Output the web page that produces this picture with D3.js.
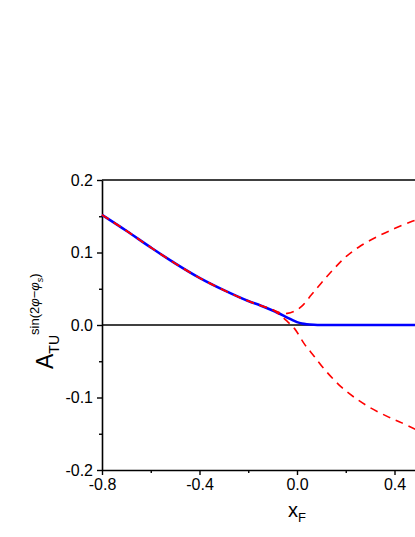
<!DOCTYPE html>
<html>
<head>
<meta charset="utf-8">
<script src="https://cdn.jsdelivr.net/npm/d3@7"></script>
<style>
  body { margin: 0; background: #fff; }
  svg { display: block; font-family: "Liberation Sans", Arial, sans-serif; }
</style>
</head>
<body>
<svg id="chart"></svg>
<script>
// data
let xTicks = [-0.8, -0.4, 0.0, 0.4];
let xMinor = [-0.6, -0.2, 0.2];
let yTicks = [-0.2, -0.1, 0.0, 0.1, 0.2];
let yMinor = [-0.15, -0.05, 0.05, 0.15];

// blue solid curve
let blueX = [-0.8, -0.7, -0.6, -0.5, -0.4, -0.3, -0.2, -0.15, -0.1, -0.05, -0.02, 0.0, 0.02, 0.04, 0.07, 0.1, 0.2, 0.8];
let blueY = [0.152, 0.130, 0.107, 0.085, 0.065, 0.048, 0.033, 0.027, 0.020, 0.012, 0.007, 0.004, 0.002, 0.001, 0.0003, 0.0, 0.0, 0.0];

// red dashed, upper branch
let redUpX = [-0.8, -0.7, -0.6, -0.5, -0.4, -0.3, -0.2, -0.15, -0.1, -0.07, -0.04, -0.01, 0.02, 0.06, 0.1, 0.15, 0.2, 0.26, 0.33, 0.4, 0.465, 0.5];
let redUpY = [0.152, 0.130, 0.107, 0.085, 0.065, 0.048, 0.033, 0.027, 0.021, 0.017, 0.016, 0.019, 0.026, 0.042, 0.058, 0.077, 0.094, 0.109, 0.122, 0.133, 0.142, 0.146];

// red dashed, lower branch
let redLoX = [-0.8, -0.7, -0.6, -0.5, -0.4, -0.3, -0.2, -0.15, -0.1, -0.07, -0.04, -0.01, 0.03, 0.07, 0.12, 0.18, 0.24, 0.3, 0.37, 0.43, 0.5];
let redLoY = [0.152, 0.130, 0.107, 0.085, 0.065, 0.048, 0.033, 0.027, 0.021, 0.014, 0.005, -0.005, -0.026, -0.043, -0.064, -0.085, -0.101, -0.114, -0.126, -0.135, -0.146];

let width = 415;
let height = 537;
let margin = { top: 180, left: 102, bottom: 67 };
let plotRight = 492; // the frame continues past the window edge

let svg = d3.select('#chart')
  .attr('width', width)
  .attr('height', height);

let x = d3.scaleLinear()
  .domain([-0.8, 0.8])
  .range([margin.left, plotRight]);

let y = d3.scaleLinear()
  .domain([-0.2, 0.2])
  .range([height - margin.bottom, margin.top]);

let fmt = d => d.toFixed(1);

function zip(xs, ys) {
  return xs.map((v, i) => ({ x: v, y: ys[i] }));
}

// top frame line
svg.append("line")
  .attr("x1", x(-0.8)).attr("x2", x(0.8))
  .attr("y1", y(0.2)).attr("y2", y(0.2))
  .attr("stroke", "#000").attr("stroke-width", 1.6);

// zero line
svg.append("line")
  .attr("x1", x(-0.8)).attr("x2", x(0.8))
  .attr("y1", y(0)).attr("y2", y(0))
  .attr("stroke", "#000").attr("stroke-width", 1.6);

// x axis
let gx = svg.append("g")
  .attr("transform", `translate(0,${y(-0.2)})`)
  .call(d3.axisBottom(x).tickValues(xTicks).tickFormat(fmt).tickSize(5).tickSizeOuter(0));
svg.append("g")
  .attr("transform", `translate(0,${y(-0.2)})`)
  .call(d3.axisBottom(x).tickValues(xMinor).tickFormat("").tickSize(3).tickSizeOuter(0))
  .call(g => g.select(".domain").remove());

// y axis
let gy = svg.append("g")
  .attr("transform", `translate(${x(-0.8)},0)`)
  .call(d3.axisLeft(y).tickValues(yTicks).tickFormat(fmt).tickSize(5).tickSizeOuter(0));
svg.append("g")
  .attr("transform", `translate(${x(-0.8)},0)`)
  .call(d3.axisLeft(y).tickValues(yMinor).tickFormat("").tickSize(3).tickSizeOuter(0))
  .call(g => g.select(".domain").remove());

svg.selectAll(".domain").attr("stroke-width", 1.6);
svg.selectAll(".tick line").attr("stroke-width", 1.4);
svg.selectAll(".tick text")
  .attr("font-family", "Liberation Sans, Arial, sans-serif")
  .attr("font-size", 16)
  .attr("fill", "#000");
gx.selectAll(".tick text").attr("dy", "0.78em").attr("y", 8);
gy.selectAll(".tick text").attr("x", -9);

let line = d3.line()
  .x(d => x(d.x))
  .y(d => y(d.y))
  .curve(d3.curveCatmullRom);

svg.append("path")
  .datum(zip(blueX, blueY))
  .attr("fill", "none")
  .attr("stroke", "#0000ff")
  .attr("stroke-width", 2.6)
  .attr("d", line);

for (let [xs, ys] of [[redUpX, redUpY], [redLoX, redLoY]]) {
  svg.append("path")
    .datum(zip(xs, ys))
    .attr("fill", "none")
    .attr("stroke", "#ff0000")
    .attr("stroke-width", 1.6)
    .attr("stroke-dasharray", "8,6")
    .attr("d", line);
}

// x axis title
let xt = svg.append("text")
  .attr("x", x(0))
  .attr("y", 517)
  .attr("text-anchor", "middle")
  .attr("font-size", 20);
xt.append("tspan").text("x");
xt.append("tspan").attr("font-size", 13).attr("dy", 5).text("F");

// y axis title
let yt = svg.append("text")
  .attr("transform", `translate(53,369) rotate(-90)`)
  .attr("text-anchor", "start")
  .attr("font-size", 23);
yt.append("tspan").text("A");
yt.append("tspan").attr("font-size", 14).attr("dy", 6).text("TU");
let sup = yt.append("tspan").attr("font-size", 13).attr("dy", -20);
sup.text("sin(2");
yt.append("tspan").attr("font-size", 13).attr("font-style", "italic").text("φ");
yt.append("tspan").attr("font-size", 13).text("−");
yt.append("tspan").attr("font-size", 13).attr("font-style", "italic").text("φ");
yt.append("tspan").attr("font-size", 9).attr("font-style", "italic").attr("dy", 4).text("s");
yt.append("tspan").attr("font-size", 13).attr("dy", -4).text(")");
</script>
</body>
</html>
